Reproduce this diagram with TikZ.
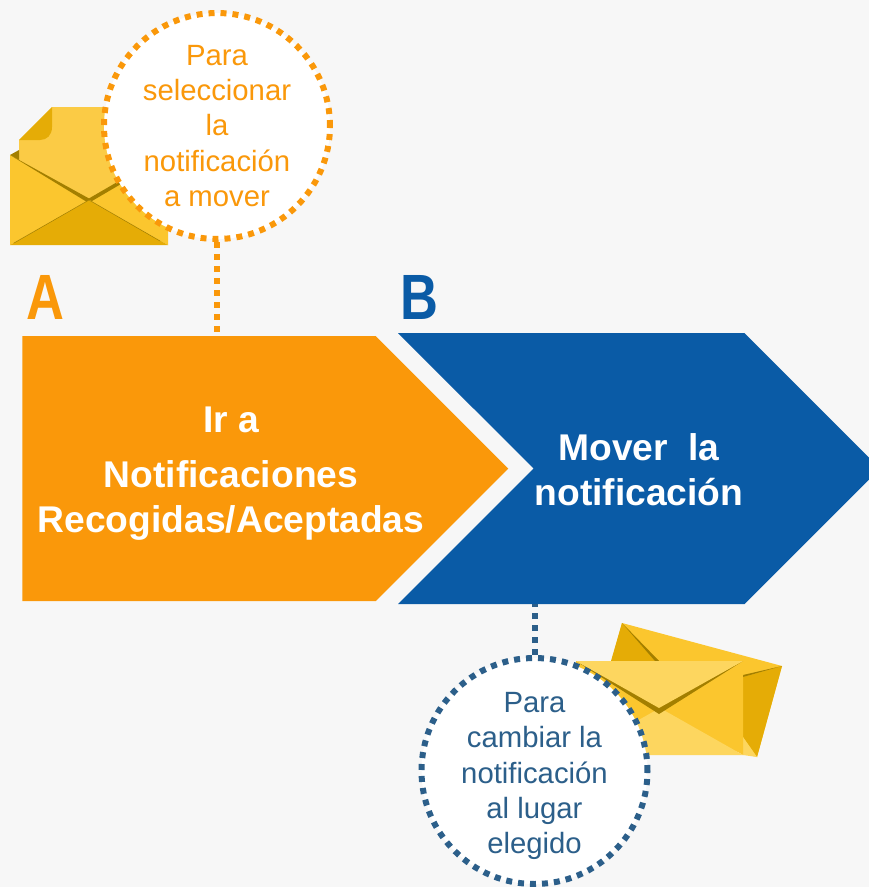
\documentclass[tikz,border=0pt]{standalone}
\usepackage{fontspec}
\setmainfont{Liberation Sans}
\usetikzlibrary{shapes.symbols, positioning}
\definecolor{pagebg}{HTML}{F7F7F7}
\definecolor{orangebox}{HTML}{FA980A}
\definecolor{bluebox}{HTML}{0A5BA6}
\definecolor{bluedot}{HTML}{2C5F8A}
\definecolor{envmid}{HTML}{FBC62E}
\definecolor{envlight}{HTML}{FDD65F}
\definecolor{envpaper}{HTML}{FBCB45}
\definecolor{envdeep}{HTML}{E5AC06}
\definecolor{envdark}{HTML}{A37F00}
\tikzset{
    stepsign/.style={signal, signal to=east, signal pointer angle=90, inner sep=0pt, draw=none},
    steptext/.style={text=white, font=\bfseries\fontsize{37.2}{45}\selectfont, align=center, inner sep=0pt},
    steplabel/.style={font=\bfseries\fontsize{64}{64}\selectfont, inner sep=0pt},
    callout/.style={circle, fill=white, minimum size=226pt, inner sep=0pt,
        line width=6pt, dash pattern=on 6pt off 6pt},
    calltext/.style={align=center, inner sep=0pt, font=\fontsize{29.3}{35.3}\selectfont},
    link/.style={line width=6pt, dash pattern=on 6pt off 6pt},
}

\begin{document}
\begin{tikzpicture}[x=1pt,y=-1pt]
\clip (0,0) rectangle (869,887);
\fill[pagebg] (0,0) rectangle (869,887);

% envelope with the sheet
\fill[envpaper] (52,107) -- (140,107) -- (140,200) -- (19,200) -- (19,140) -- cycle;
\fill[envdeep] (52,107) -- (52,127) .. controls (52,135) and (47,140) .. (40,140) -- (19,140) -- cycle;
\fill[envdark] (10,155) -- (19,150) -- (19,161) -- cycle;
\fill[envmid] (10,155) -- (89,200) -- (10,245) -- cycle;
\fill[envmid] (168,155) -- (168,245) -- (89,200) -- cycle;
\fill[envdark] (10,155) -- (90,199) -- (87,202) -- cycle;
\fill[envdark] (88,199) -- (150,163) -- (150,167) -- (92,201) -- cycle;
\fill[envdeep] (10,245) -- (89,200) -- (168,245) -- cycle;
\draw[envdark, line width=0.5pt] (14,243) -- (89,200) -- (160,241);

% two envelopes
\fill[envmid] (622,623) -- (782,666) -- (757,757) -- (597,714) -- cycle;
\fill[envdeep] (622,623) -- (611,661) -- (659,661) -- cycle;
\fill[envdeep] (782,666) -- (743,677) -- (743,737) -- (757,757) -- cycle;
\fill[envlight] (743,737) -- (757,757) -- (743,755) -- cycle;
\fill[envdark] (622,623) -- (659,661) -- (655,661) -- cycle;
\fill[envdark] (782,666) -- (743,677) -- (743,675) -- cycle;
\fill[envmid] (576,661) -- (660,708) -- (576,755) -- cycle;
\fill[envmid] (743,661) -- (743,755) -- (660,708) -- cycle;
\fill[envlight] (576,755) -- (660,708) -- (743,755) -- cycle;
\fill[envdark] (576,661) -- (659,714) -- (743,661) -- (659,707) -- cycle;
\fill[envlight] (576,661) -- (743,661) -- (659,708) -- cycle;

\node[stepsign, signal from=west, fill=bluebox, minimum width=482pt, minimum height=271pt] (boxB) at (639,468.5) {};
\node[stepsign, fill=orangebox, minimum width=486pt, minimum height=265pt] (boxA) at (199,468.5) {};

\node[steptext] (textA) at (231,474) {Ir a\\[10pt] Notificaciones\\ Recogidas/Aceptadas};
\node[steptext] (textB) at (639,470) {Mover~~la\\ notificación};

\node[steplabel, text=orangebox] (labelA) at (45.5,297) {\scalebox{.82}[1]{A}};
\node[steplabel, text=bluebox] (labelB) at (419,297) {\scalebox{.82}[1]{B}};

\node[callout, draw=orangebox] (callA) at (217,126) {};
\node[callout, draw=bluedot] (callB) at (534.5,771) {};
\node[calltext, text=orangebox] (calltextA) at (callA) {Para\\ seleccionar\\ la\\ notificación\\ a mover};
\node[calltext, text=bluedot] (calltextB) at (534.5,776) {Para\\ cambiar la\\ notificación\\ al lugar\\ elegido};

\draw[link, draw=orangebox] (callA) -- (callA |- boxA.north);
\draw[link, draw=bluedot] (callB) -- (callB |- boxB.south);
\end{tikzpicture}
\end{document}
